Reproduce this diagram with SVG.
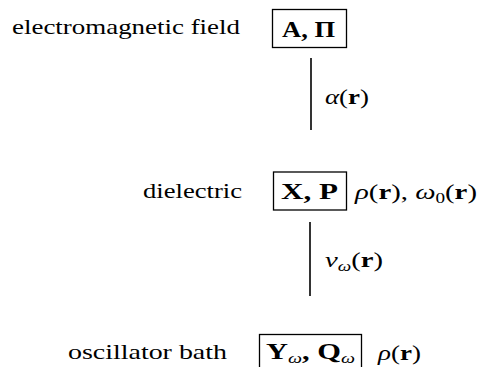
<svg xmlns="http://www.w3.org/2000/svg" width="479" height="367" viewBox="0 0 479 367">
<style>
.t{font-family:"Liberation Serif","DejaVu Serif",serif;font-size:21px;fill:#000}
.bx{font-family:"Liberation Serif","DejaVu Serif",serif;font-size:23px;font-weight:bold;fill:#000}
.b{font-weight:bold}
.i{font-style:italic}
.box{fill:none;stroke:#000;stroke-width:1.3}
.ln{stroke:#000;stroke-width:1.6}
</style>
<g id="em">
<text class="t" x="12" y="34" textLength="228" lengthAdjust="spacingAndGlyphs">electromagnetic field</text>
<rect class="box" x="272.5" y="9.5" width="74" height="38"/>
<text class="bx" x="282" y="37" textLength="53" lengthAdjust="spacingAndGlyphs">A, Π</text>
</g>
<g id="diel">
<text class="t" x="143" y="198" textLength="99" lengthAdjust="spacingAndGlyphs">dielectric</text>
<rect class="box" x="273.5" y="172" width="73" height="38"/>
<text class="bx" x="281" y="199" textLength="57" lengthAdjust="spacingAndGlyphs">X, P</text>
<text class="t" x="355" y="199" textLength="122" lengthAdjust="spacingAndGlyphs"><tspan class="i">ρ</tspan>(<tspan class="b">r</tspan>), <tspan class="i">ω</tspan><tspan font-size="14" dy="4">0</tspan><tspan dy="-4">(</tspan><tspan class="b">r</tspan>)</text>
</g>
<g id="bath">
<text class="t" x="68" y="359" textLength="159" lengthAdjust="spacingAndGlyphs">oscillator bath</text>
<rect class="box" x="259.5" y="334.5" width="102" height="40"/>
<text class="bx" x="266" y="359" textLength="89" lengthAdjust="spacingAndGlyphs">Y<tspan font-size="15" dy="4" font-weight="normal" font-style="italic">ω</tspan><tspan dy="-4">, Q</tspan><tspan font-size="15" dy="4" font-weight="normal" font-style="italic">ω</tspan></text>
<text class="t" x="378" y="360" textLength="43" lengthAdjust="spacingAndGlyphs"><tspan class="i">ρ</tspan>(<tspan class="b">r</tspan>)</text>
</g>
<g id="connectors">
<line class="ln" x1="311" y1="58" x2="311" y2="130"/>
<text class="t" x="325" y="104" textLength="44" lengthAdjust="spacingAndGlyphs"><tspan class="i">α</tspan>(<tspan class="b">r</tspan>)</text>
<line class="ln" x1="310" y1="222" x2="310" y2="296"/>
<text class="t" x="325" y="267" textLength="58" lengthAdjust="spacingAndGlyphs"><tspan class="i">v</tspan><tspan font-size="14" dy="4" class="i">ω</tspan><tspan dy="-4">(</tspan><tspan class="b">r</tspan>)</text>
</g>
</svg>
